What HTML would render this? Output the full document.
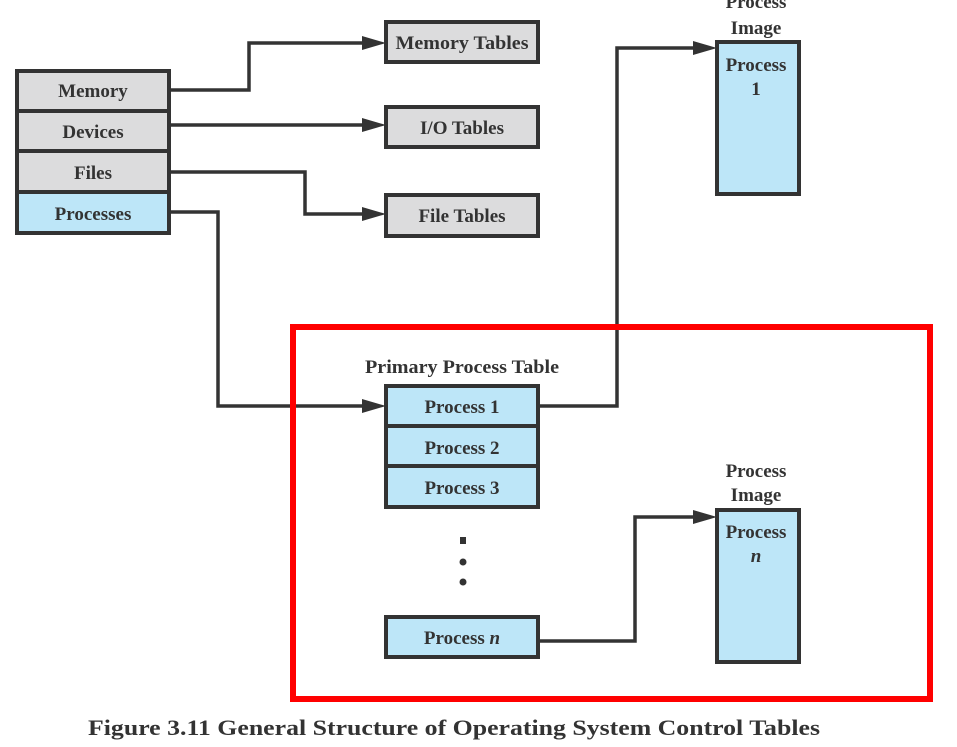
<!DOCTYPE html>
<html><head><meta charset="utf-8"><style>
html,body{margin:0;padding:0;background:#fff;width:957px;height:747px;overflow:hidden}
svg text{font-family:"Liberation Serif",serif;font-weight:bold;fill:#333}
</style></head><body>
<svg width="957" height="747" viewBox="0 0 957 747" xmlns="http://www.w3.org/2000/svg">
<g fill="none" stroke="#333" stroke-width="3.5">
<path d="M170,90 H249 V43 H366"/>
<path d="M170,125 H366"/>
<path d="M170,172 H305 V214 H366"/>
<path d="M170,212 H218 V406 H366"/>
<path d="M539,406 H617 V48 H697"/>
<path d="M539,641 H635 V517 H697"/>
</g>
<g fill="#333">
<path d="M362,36 L386,43 L362,50 Z"/>
<path d="M362,118 L386,125 L362,132 Z"/>
<path d="M362,207 L386,214 L362,221 Z"/>
<path d="M362,399 L386,406 L362,413 Z"/>
<path d="M693,41 L717,48 L693,55 Z"/>
<path d="M693,510 L717,517 L693,524 Z"/>
</g>
<g stroke="#333" stroke-width="4">
<rect x="17" y="71" width="152" height="40" fill="#dcdcdd"/>
<rect x="17" y="111" width="152" height="40" fill="#dcdcdd"/>
<rect x="17" y="151" width="152" height="41" fill="#dcdcdd"/>
<rect x="17" y="192" width="152" height="41" fill="#bde6f8"/>
<rect x="386" y="22" width="152" height="40" fill="#dcdcdd"/>
<rect x="386" y="107" width="152" height="40" fill="#dcdcdd"/>
<rect x="386" y="195" width="152" height="41" fill="#dcdcdd"/>
<rect x="386" y="386" width="152" height="40" fill="#bde6f8"/>
<rect x="386" y="426" width="152" height="40" fill="#bde6f8"/>
<rect x="386" y="466" width="152" height="41" fill="#bde6f8"/>
<rect x="386" y="617" width="152" height="40" fill="#bde6f8"/>
<rect x="717" y="42" width="82" height="152" fill="#bde6f8"/>
<rect x="717" y="510" width="82" height="152" fill="#bde6f8"/>
</g>
<rect x="293" y="327" width="637" height="372" fill="none" stroke="#f00" stroke-width="6"/>
<g fill="#333"><rect x="460" y="537" width="6" height="7"/><circle cx="463" cy="562" r="3.5"/><circle cx="463" cy="582" r="3.5"/></g>
<g font-size="19" text-anchor="middle">
<text x="93" y="97">Memory</text>
<text x="93" y="138">Devices</text>
<text x="93" y="179">Files</text>
<text x="93" y="220">Processes</text>
<text x="462" y="49" textLength="133" lengthAdjust="spacingAndGlyphs">Memory Tables</text>
<text x="462" y="134">I/O Tables</text>
<text x="462" y="222">File Tables</text>
<text x="462" y="413">Process 1</text>
<text x="462" y="454">Process 2</text>
<text x="462" y="494">Process 3</text>
<text x="462" y="644">Process <tspan font-style="italic">n</tspan></text>
<text x="462" y="373" textLength="194" lengthAdjust="spacingAndGlyphs">Primary Process Table</text>
<text x="756" y="8">Process</text>
<text x="756" y="34">Image</text>
<text x="756" y="71">Process</text>
<text x="756" y="95">1</text>
<text x="756" y="477">Process</text>
<text x="756" y="501">Image</text>
<text x="756" y="538">Process</text>
<text x="756" y="562" font-style="italic">n</text>
</g>
<text x="88" y="735" font-size="22" textLength="732" lengthAdjust="spacingAndGlyphs">Figure 3.11  General Structure of Operating System Control Tables</text>
</svg>
</body></html>
